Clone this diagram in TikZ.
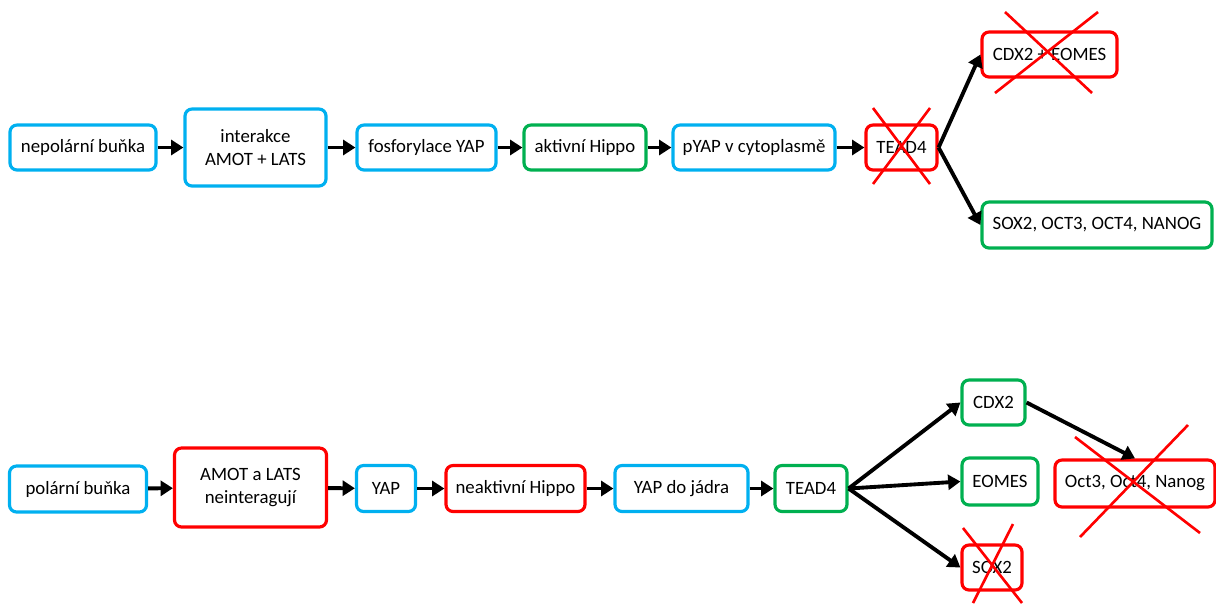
\documentclass[tikz,border=0pt]{standalone}
\usepackage{fontspec}
\setmainfont{Carlito}
\usepackage{tikz}
\usetikzlibrary{arrows.meta, positioning}

\begin{document}
\begin{tikzpicture}
                [x=0.02cm, y=-0.02cm,
                every node/.style={font=\fontsize{10.7}{13.5}\selectfont},
                box/.style={draw, rounded corners=4pt, line width=1.8pt, fill=white, align=center, inner sep=0pt},
                bluebox/.style={box, draw={rgb,255:red,0;green,176;blue,240}},
                greenbox/.style={box, draw={rgb,255:red,0;green,176;blue,80}},
                redbox/.style={box, draw={rgb,255:red,255;green,0;blue,0}},
                sz/.style 2 args={minimum width=#1*0.02cm, minimum height=#2*0.02cm},
                arr/.style={line width=2.2pt, -{Triangle[length=7pt,width=8.5pt]}},
                cross/.style={line width=1.5pt, draw={rgb,255:red,255;green,0;blue,0}}]
                \useasboundingbox (0,0) rectangle (1216,603);
                % nepolarni bunka
                \node[bluebox, sz={146}{45}] (np) at (83,147.5) {nepolární buňka};
                \node[bluebox, sz={141}{77}] (inter) at (255.5,147.5) {interakce\\AMOT + LATS};
                \node[bluebox, sz={139}{45}] (fosf) at (426.5,147.5) {fosforylace YAP};
                \node[greenbox, sz={122}{45}] (hippo) at (585,147.5) {aktivní Hippo};
                \node[bluebox, sz={162}{45}] (pyap) at (754,147.5) {pYAP v cytoplasmě};
                \node[redbox, sz={71}{45}] (tead) at (901.5,147.5) {TEAD4};
                \node[redbox, sz={135}{45}] (cdxeo) at (1049.5,54.5) {CDX2 + EOMES};
                \node[greenbox, sz={230}{46}] (sox) at (1097,225) {SOX2, OCT3, OCT4, NANOG};
                \draw[arr] (np) -- (inter);
                \draw[arr] (inter) -- (fosf);
                \draw[arr] (fosf) -- (hippo);
                \draw[arr] (hippo) -- (pyap);
                \draw[arr] (pyap) -- (tead);
                \draw[arr] (tead.east) -- (cdxeo.west);
                \draw[arr] (tead.east) -- (sox.west);
                \draw[cross] (873,108) -- (930,184);
                \draw[cross] (930,108) -- (873,184);
                \draw[cross] (1005,12) -- (1092,93);
                \draw[cross] (1098,12) -- (995,93);
                % polarni bunka
                \node[bluebox, sz={137}{46}] (pol) at (78,489) {polární buňka};
                \node[redbox, sz={152}{79}] (neint) at (250.5,487.5) {AMOT a LATS\\neinteragují};
                \node[bluebox, sz={59}{46}] (yap) at (386,488.5) {YAP};
                \node[redbox, sz={139}{46}] (nhippo) at (515.5,488.5) {neaktivní Hippo};
                \node[bluebox, sz={133}{46}] (jadro) at (681.5,488.5) {YAP do jádra};
                \node[greenbox, sz={72}{46}] (tead2) at (811,488.5) {TEAD4};
                \node[greenbox, sz={63}{45}] (cdx) at (993.5,402.5) {CDX2};
                \node[greenbox, sz={76}{47}] (eomes) at (1000,481.5) {EOMES};
                \node[redbox, sz={60}{45}] (sox2) at (992,567.5) {SOX2};
                \node[redbox, sz={160}{47}] (oct) at (1135,483.5) {Oct3, Oct4, Nanog};
                \draw[arr] (pol) -- (neint);
                \draw[arr] (neint) -- (yap);
                \draw[arr] (yap) -- (nhippo);
                \draw[arr] (nhippo) -- (jadro);
                \draw[arr] (jadro) -- (tead2);
                \draw[arr] (tead2.east) -- (cdx.west);
                \draw[arr] (tead2.east) -- (eomes.west);
                \draw[arr] (tead2.east) -- (sox2.west);
                \draw[arr] (cdx.east) -- (oct.north);
                \draw[cross] (963,528) -- (1022,603);
                \draw[cross] (1013,524) -- (973,603);
                \draw[cross] (1075,437) -- (1200,533);
                \draw[cross] (1188,425) -- (1080,537);
\end{tikzpicture}
\end{document}
